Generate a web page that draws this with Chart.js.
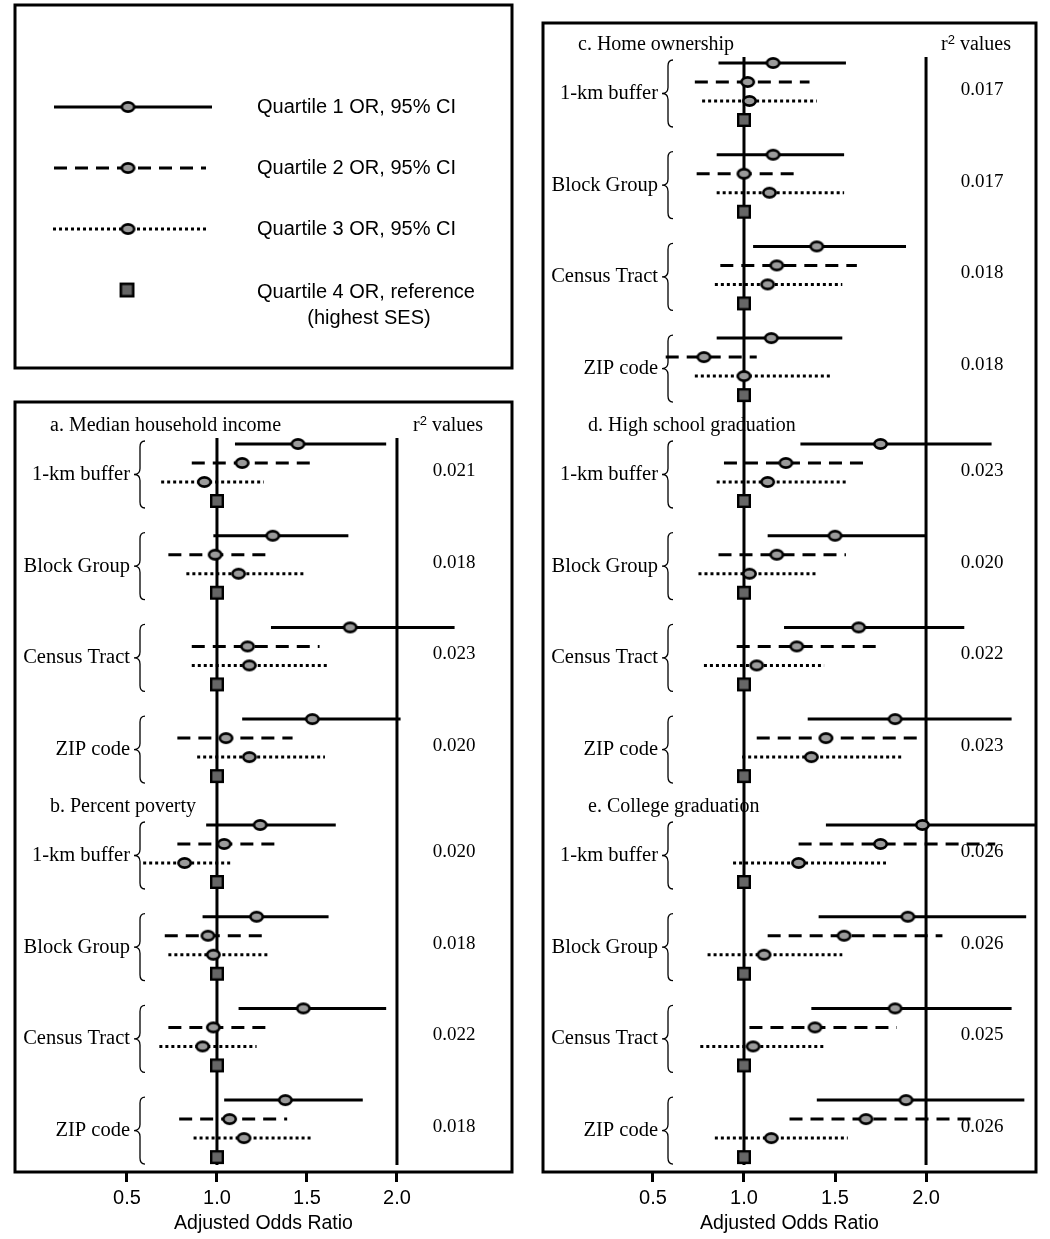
<!DOCTYPE html>
<html>
<head>
<meta charset="utf-8">
<script src="https://cdn.jsdelivr.net/npm/chart.js@4.4.0/dist/chart.umd.min.js"></script>
<style>
  html, body { margin: 0; padding: 0; background: #fff; }
  #wrap { display: flex; width: 1050px; height: 1239px; }
  canvas { display: block; }
</style>
</head>
<body>
<div id="wrap">
  <canvas id="chartLeft" width="525" height="1239"></canvas>
  <canvas id="chartRight" width="525" height="1239"></canvas>
</div>
<script>
// Datos: [OR, IC inferior, IC superior] por nivel geografico
const zones = ['1-km buffer', 'Block Group', 'Census Tract', 'ZIP code'];
const tickValues = [0.5, 1.0, 1.5, 2.0];

// a. Median household income
const incomeQ1 = [[1.45, 1.10, 1.94], [1.31, 0.98, 1.73], [1.74, 1.30, 2.32], [1.53, 1.14, 2.02]];
const incomeQ2 = [[1.14, 0.86, 1.54], [0.99, 0.73, 1.31], [1.17, 0.86, 1.57], [1.05, 0.78, 1.42]];
const incomeQ3 = [[0.93, 0.69, 1.26], [1.12, 0.83, 1.48], [1.18, 0.86, 1.61], [1.18, 0.89, 1.60]];
const incomeR2 = ['0.021', '0.018', '0.023', '0.020'];

// b. Percent poverty
const povertyQ1 = [[1.24, 0.94, 1.66], [1.22, 0.92, 1.62], [1.48, 1.12, 1.94], [1.38, 1.04, 1.81]];
const povertyQ2 = [[1.04, 0.78, 1.36], [0.95, 0.71, 1.28], [0.98, 0.73, 1.31], [1.07, 0.79, 1.39]];
const povertyQ3 = [[0.82, 0.59, 1.09], [0.98, 0.73, 1.29], [0.92, 0.68, 1.22], [1.15, 0.87, 1.53]];
const povertyR2 = ['0.020', '0.018', '0.022', '0.018'];

// c. Home ownership
const homeQ1 = [[1.16, 0.86, 1.56], [1.16, 0.85, 1.55], [1.40, 1.05, 1.89], [1.15, 0.85, 1.54]];
const homeQ2 = [[1.02, 0.73, 1.36], [1.00, 0.74, 1.31], [1.18, 0.87, 1.62], [0.78, 0.57, 1.07]];
const homeQ3 = [[1.03, 0.77, 1.40], [1.14, 0.85, 1.55], [1.13, 0.84, 1.54], [1.00, 0.73, 1.48]];
const homeR2 = ['0.017', '0.017', '0.018', '0.018'];

// d. High school graduation
const highQ1 = [[1.75, 1.31, 2.36], [1.50, 1.13, 2.00], [1.63, 1.22, 2.21], [1.83, 1.35, 2.47]];
const highQ2 = [[1.23, 0.89, 1.67], [1.18, 0.86, 1.56], [1.29, 0.96, 1.73], [1.45, 1.07, 1.96]];
const highQ3 = [[1.13, 0.85, 1.57], [1.03, 0.75, 1.40], [1.07, 0.78, 1.44], [1.37, 0.99, 1.87]];
const highR2 = ['0.023', '0.020', '0.022', '0.023'];

// e. College graduation
const collegeQ1 = [[1.98, 1.45, 2.70], [1.90, 1.41, 2.55], [1.83, 1.37, 2.47], [1.89, 1.40, 2.54]];
const collegeQ2 = [[1.75, 1.30, 2.38], [1.55, 1.13, 2.09], [1.39, 1.03, 1.84], [1.67, 1.25, 2.26]];
const collegeQ3 = [[1.30, 0.94, 1.78], [1.11, 0.80, 1.54], [1.05, 0.76, 1.45], [1.15, 0.84, 1.57]];
const collegeR2 = ['0.026', '0.026', '0.025', '0.026'];

const SERIF = '"Liberation Serif", "Times New Roman", serif';
const SANS = '"Liberation Sans", Arial, sans-serif';
const H = 1239;

// Espaciado de filas (en pixeles de pagina)
const SECTION_STEP = 381, GROUP_STEP = 91.7, ROW_STEP = 19;
function rowY(base, s, g, q) {
    return base + s * SECTION_STEP + g * GROUP_STEP + q * ROW_STEP;
}

const panels = {
    left: {
        sections: [
            { title: 'a. Median household income', q: [incomeQ1, incomeQ2, incomeQ3], r2: incomeR2, indent: 35 },
            { title: 'b. Percent poverty', q: [povertyQ1, povertyQ2, povertyQ3], r2: povertyR2, indent: 35 }
        ],
        base: 444, top: 402, bottom: 1172, padL: 15, padR: 13, xMin: -0.122, xMax: 2.639
    },
    right: {
        sections: [
            { title: 'c. Home ownership', q: [homeQ1, homeQ2, homeQ3], r2: homeR2, indent: 35 },
            { title: 'd. High school graduation', q: [highQ1, highQ2, highQ3], r2: highR2, indent: 45 },
            { title: 'e. College graduation', q: [collegeQ1, collegeQ2, collegeQ3], r2: collegeR2, indent: 45 }
        ],
        base: 63, top: 23, bottom: 1172, padL: 18, padR: 14, xMin: -0.104, xMax: 2.604
    }
};

// Marcadores
function makeOval() {
    const c = document.createElement('canvas');
    c.width = 17; c.height = 14;
    const ctx = c.getContext('2d');
    ctx.beginPath();
    ctx.ellipse(8.5, 7, 6.2, 4.6, 0, 0, Math.PI * 2);
    ctx.fillStyle = '#9a9a9a';
    ctx.fill();
    ctx.lineWidth = 2.6;
    ctx.strokeStyle = '#000';
    ctx.stroke();
    return c;
}
function makeSquare() {
    const c = document.createElement('canvas');
    c.width = 16; c.height = 16;
    const ctx = c.getContext('2d');
    ctx.fillStyle = '#666';
    ctx.fillRect(2.2, 2.2, 11.6, 11.6);
    ctx.lineWidth = 2.4;
    ctx.strokeStyle = '#000';
    ctx.strokeRect(2.2, 2.2, 11.6, 11.6);
    return c;
}
const ovalImg = makeOval();
const squareImg = makeSquare();
const dashes = [[], [13, 8], [3, 3]];

function drawBrace(ctx, x, y0, y1) {
    const ym = (y0 + y1) / 2, w = 6, c = 6;
    ctx.beginPath();
    ctx.moveTo(x + 2 * w - 1, y0);
    ctx.quadraticCurveTo(x + w, y0, x + w, y0 + c);
    ctx.lineTo(x + w, ym - c);
    ctx.quadraticCurveTo(x + w, ym, x, ym);
    ctx.quadraticCurveTo(x + w, ym, x + w, ym + c);
    ctx.lineTo(x + w, y1 - c);
    ctx.quadraticCurveTo(x + w, y1, x + 2 * w - 1, y1);
    ctx.stroke();
}

function buildDatasets(p) {
    const ci = [[], [], []], pts = [[], [], []], refs = [];
    p.sections.forEach((sec, s) => {
        zones.forEach((z, g) => {
            for (let q = 0; q < 3; q++) {
                const [or, lo, hi] = sec.q[q][g];
                const y = rowY(p.base, s, g, q);
                ci[q].push({ x: lo, y: y }, { x: hi, y: y }, { x: null, y: null });
                pts[q].push({ x: or, y: y });
            }
            refs.push({ x: 1, y: rowY(p.base, s, g, 3) });
        });
    });
    const yTop = p.base - 6;
    const yBot = rowY(p.base, p.sections.length - 1, 3, 3) + 8;
    const vlines = [{ x: 1, y: yTop }, { x: 1, y: yBot }, { x: null, y: null }, { x: 2, y: yTop }, { x: 2, y: yBot }];

    const ds = [];
    ds.push({ data: vlines, showLine: true, borderColor: '#000', borderWidth: 3, pointRadius: 0, order: 3 });
    for (let q = 0; q < 3; q++) {
        ds.push({
            data: ci[q], showLine: true, borderColor: '#000', borderWidth: 3,
            borderDash: dashes[q], borderCapStyle: 'butt', pointRadius: 0, order: 2
        });
    }
    for (let q = 0; q < 3; q++) {
        ds.push({ data: pts[q], pointStyle: ovalImg, pointRadius: 7, order: 0 });
    }
    ds.push({ data: refs, pointStyle: squareImg, pointRadius: 7, order: 0 });
    return ds;
}

// Textos del panel: titulos, etiquetas, llaves y r2
function panelPlugin(p) {
    return {
        id: 'panelText',
        beforeDatasetsDraw(chart) {
            const ctx = chart.ctx, ca = chart.chartArea, ys = chart.scales.y;
            ctx.save();
            ctx.fillStyle = '#000';
            ctx.strokeStyle = '#000';
            ctx.textBaseline = 'middle';
            p.sections.forEach((sec, s) => {
                const hy = ys.getPixelForValue(rowY(p.base, s, 0, 0) - 18);
                ctx.font = '20px ' + SERIF;
                ctx.textAlign = 'left';
                ctx.fillText(sec.title, ca.left + sec.indent, hy);
                if (s === 0) {
                    // encabezado "r2 values"
                    const x0 = ca.left + 398;
                    ctx.fillText('r', x0, hy);
                    const rw = ctx.measureText('r').width;
                    ctx.font = '13px ' + SANS;
                    ctx.fillText('2', x0 + rw, hy - 5);
                    const tw = ctx.measureText('2').width;
                    ctx.font = '20px ' + SERIF;
                    ctx.fillText(' values', x0 + rw + tw, hy);
                }
                zones.forEach((z, g) => {
                    const y0 = ys.getPixelForValue(rowY(p.base, s, g, 0) - 3);
                    const y1 = ys.getPixelForValue(rowY(p.base, s, g, 3) + 7);
                    ctx.font = '20.5px ' + SERIF;
                    ctx.textAlign = 'right';
                    ctx.fillText(z, ca.left + 115, (y0 + y1) / 2);
                    ctx.lineWidth = 1.3;
                    drawBrace(ctx, ca.left + 119, y0, y1);
                    ctx.font = '19px ' + SERIF;
                    ctx.textAlign = 'center';
                    ctx.fillText(sec.r2[g], ca.left + 439, ys.getPixelForValue(rowY(p.base, s, g, 0) + 27));
                });
            });
            ctx.restore();
        },
        afterDraw(chart) {
            const ctx = chart.ctx, ca = chart.chartArea;
            ctx.save();
            ctx.lineWidth = 3;
            ctx.strokeStyle = '#000';
            ctx.strokeRect(ca.left, ca.top, ca.right - ca.left, ca.bottom - ca.top);
            ctx.restore();
        }
    };
}

// Leyenda (recuadro superior izquierdo)
const legendPlugin = {
    id: 'legendBox',
    afterDraw(chart) {
        const ctx = chart.ctx;
        ctx.save();
        ctx.lineWidth = 3;
        ctx.strokeStyle = '#000';
        ctx.strokeRect(15, 5, 497, 363);
        const items = [
            { y: 107, x0: 54, x1: 212, dash: dashes[0], text: 'Quartile 1 OR, 95% CI' },
            { y: 168, x0: 54, x1: 206, dash: dashes[1], text: 'Quartile 2 OR, 95% CI' },
            { y: 229, x0: 53, x1: 207, dash: dashes[2], text: 'Quartile 3 OR, 95% CI' }
        ];
        ctx.fillStyle = '#000';
        ctx.font = '20px ' + SANS;
        ctx.textBaseline = 'middle';
        items.forEach(it => {
            ctx.beginPath();
            ctx.setLineDash(it.dash);
            ctx.moveTo(it.x0, it.y);
            ctx.lineTo(it.x1, it.y);
            ctx.stroke();
            ctx.setLineDash([]);
            ctx.drawImage(ovalImg, 128 - ovalImg.width / 2, it.y - ovalImg.height / 2);
            ctx.textAlign = 'left';
            ctx.fillText(it.text, 257, it.y);
        });
        ctx.drawImage(squareImg, 127 - 8.5, 290 - 8.5, 17, 17);
        ctx.textAlign = 'left';
        ctx.fillText('Quartile 4 OR, reference', 257, 292);
        ctx.textAlign = 'center';
        ctx.fillText('(highest SES)', 369, 318);
        ctx.restore();
    }
};

function crearPanel(id, p, extra) {
    const plugins = [panelPlugin(p)];
    if (extra) plugins.push(extra);
    return new Chart(document.getElementById(id), {
        type: 'scatter',
        data: { datasets: buildDatasets(p) },
        options: {
            responsive: false,
            animation: false,
            events: [],
            layout: { padding: { left: p.padL, right: p.padR, top: p.top, bottom: 0 } },
            plugins: { legend: { display: false }, tooltip: { enabled: false } },
            scales: {
                x: {
                    type: 'linear',
                    min: p.xMin,
                    max: p.xMax,
                    afterBuildTicks: s => { s.ticks = tickValues.map(v => ({ value: v })); },
                    afterFit: s => { s.height = H - p.bottom; },
                    ticks: {
                        callback: v => Number(v).toFixed(1),
                        font: { family: SANS, size: 20 },
                        color: '#000',
                        padding: 4,
                        maxRotation: 0,
                        autoSkip: false
                    },
                    grid: { drawOnChartArea: false, drawTicks: true, tickLength: 10, lineWidth: 3, color: '#000' },
                    border: { display: false },
                    title: {
                        display: true,
                        text: 'Adjusted Odds Ratio',
                        font: { family: SANS, size: 19.5 },
                        color: '#000',
                        padding: { top: 0, bottom: 4 }
                    }
                },
                y: { type: 'linear', display: false, reverse: true, min: p.top, max: p.bottom }
            }
        },
        plugins: plugins
    });
}

crearPanel('chartLeft', panels.left, legendPlugin);
crearPanel('chartRight', panels.right, null);
</script>
</body>
</html>
